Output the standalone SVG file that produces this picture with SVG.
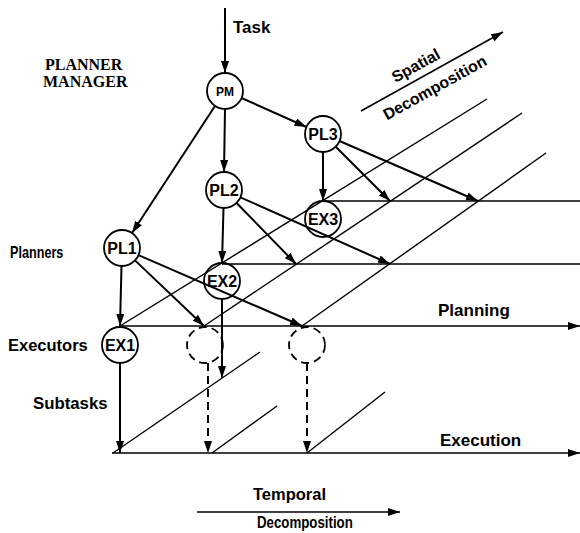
<svg xmlns="http://www.w3.org/2000/svg" width="580" height="533" viewBox="0 0 580 533">
<style>
  .lbl{font-family:"Liberation Sans",Arial,sans-serif;font-weight:bold;font-size:16px;fill:#000}
  .ser{font-family:"Liberation Serif","Times New Roman",serif;font-weight:bold;font-size:16px;fill:#000}
  .node circle{fill:none;stroke:#000;stroke-width:1.8}
  .node text{font-family:"Liberation Sans",Arial,sans-serif;font-weight:bold;font-size:16px;text-anchor:middle;fill:#000}
  .dash circle{fill:none;stroke:#000;stroke-width:1.8;stroke-dasharray:8 5}
  .thin{stroke:#000;stroke-width:1.4;fill:none}
  .arr{stroke:#000;stroke-width:2;fill:none;marker-end:url(#ah)}
  .darr{stroke:#000;stroke-width:2;fill:none;stroke-dasharray:8 5;marker-end:url(#ah)}
  .harr{stroke:#000;stroke-width:1.6;fill:none;marker-end:url(#ah)}
</style>
<defs>
  <marker id="ah" markerUnits="userSpaceOnUse" markerWidth="13" markerHeight="8" refX="12" refY="4" orient="auto">
    <path d="M0,0 L12,4 L0,8 z" fill="#000"/>
  </marker>
</defs>
<rect width="580" height="533" fill="#fff"/>

<g id="labels">
  <text class="lbl" x="233" y="33" style="font-size:17px">Task</text>
  <text class="ser" x="45" y="70">PLANNER</text>
  <text class="ser" x="43" y="87">MANAGER</text>
  <text class="lbl" transform="translate(10,258) scale(0.79,1)">Planners</text>
  <text class="lbl" x="8" y="351" style="font-size:16.5px">Executors</text>
  <text class="lbl" x="33" y="409" style="font-size:16.8px">Subtasks</text>
  <text class="lbl" x="438" y="316" style="font-size:17px">Planning</text>
  <text class="lbl" x="440" y="446" style="font-size:17px">Execution</text>
  <text class="lbl" x="253" y="500" style="font-size:16.5px">Temporal</text>
  <text class="lbl" transform="translate(257,528) scale(0.83,1)">Decomposition</text>
  <g transform="translate(416,66) rotate(-29)">
    <text class="lbl" x="0" y="5" text-anchor="middle">Spatial</text>
  </g>
  <g transform="translate(435,88) rotate(-29)">
    <text class="lbl" x="0" y="5" text-anchor="middle">Decomposition</text>
  </g>
</g>

<g id="connectors">
  <!-- decomposition axes -->
  <line class="harr" x1="361" y1="111" x2="503" y2="32"/>
  <line class="harr" x1="197" y1="512" x2="400" y2="512"/>
  <!-- horizontal levels -->
  <line class="thin" x1="323" y1="201" x2="580" y2="201"/>
  <line class="thin" x1="222" y1="264" x2="580" y2="264"/>
  <line class="harr" x1="120" y1="326" x2="580" y2="326"/>
  <line class="harr" x1="112" y1="453" x2="580" y2="453"/>
  <!-- spatial diagonals -->
  <line class="thin" x1="120" y1="326" x2="487" y2="99"/>
  <line class="thin" x1="204" y1="326" x2="522" y2="113"/>
  <line class="thin" x1="302" y1="326" x2="546" y2="153"/>
  <!-- temporal diagonals -->
  <line class="thin" x1="113" y1="453" x2="260" y2="352"/>
  <line class="thin" x1="212" y1="453" x2="277" y2="406"/>
  <line class="thin" x1="307" y1="453" x2="385" y2="392"/>
  <!-- task and manager arrows -->
  <line class="arr" x1="225" y1="8" x2="225" y2="73"/>
  <line class="arr" x1="215" y1="106" x2="132" y2="233"/>
  <line class="arr" x1="225" y1="109" x2="224" y2="172"/>
  <line class="arr" x1="241.5" y1="98" x2="306.5" y2="127"/>
  <!-- PL3 arrows -->
  <line class="arr" x1="323" y1="152" x2="323" y2="201"/>
  <line class="arr" x1="335.7" y1="146.7" x2="390" y2="201"/>
  <line class="arr" x1="339.5" y1="141" x2="478" y2="201"/>
  <!-- PL2 arrows -->
  <line class="arr" x1="223.5" y1="208" x2="222" y2="263"/>
  <line class="arr" x1="236.6" y1="203" x2="296" y2="264"/>
  <line class="arr" x1="240.4" y1="197.3" x2="390" y2="264"/>
  <!-- PL1 arrows -->
  <line class="arr" x1="121.5" y1="266" x2="120" y2="326"/>
  <line class="arr" x1="135" y1="260.4" x2="204" y2="326"/>
  <line class="arr" x1="138.5" y1="255.2" x2="302" y2="326"/>
  <!-- executor outputs -->
  <line class="arr" x1="120" y1="363" x2="120" y2="453"/>
  <line class="arr" x1="222" y1="299" x2="222" y2="378"/>
  <line class="darr" x1="208" y1="363" x2="208" y2="453"/>
  <line class="darr" x1="307" y1="363" x2="307" y2="453"/>
</g>

<g id="PM" class="node"><circle cx="225" cy="91" r="18"/><text x="225" y="96" style="font-size:12px">PM</text></g>
<g id="PL3" class="node"><circle cx="323" cy="134" r="18"/><text x="323" y="140">PL3</text></g>
<g id="PL2" class="node"><circle cx="224" cy="190" r="18"/><text x="224" y="196">PL2</text></g>
<g id="PL1" class="node"><circle cx="122" cy="248" r="18"/><text x="122" y="254">PL1</text></g>
<g id="EX3" class="node"><circle cx="323" cy="219" r="18"/><text x="323" y="225">EX3</text></g>
<g id="EX2" class="node"><circle cx="222" cy="281" r="18"/><text x="222" y="287">EX2</text></g>
<g id="EX1" class="node"><circle cx="120" cy="345" r="18"/><text x="120" y="351">EX1</text></g>
<g id="EX-future1" class="dash"><circle cx="205" cy="345" r="18"/></g>
<g id="EX-future2" class="dash"><circle cx="307" cy="345" r="18"/></g>
</svg>
